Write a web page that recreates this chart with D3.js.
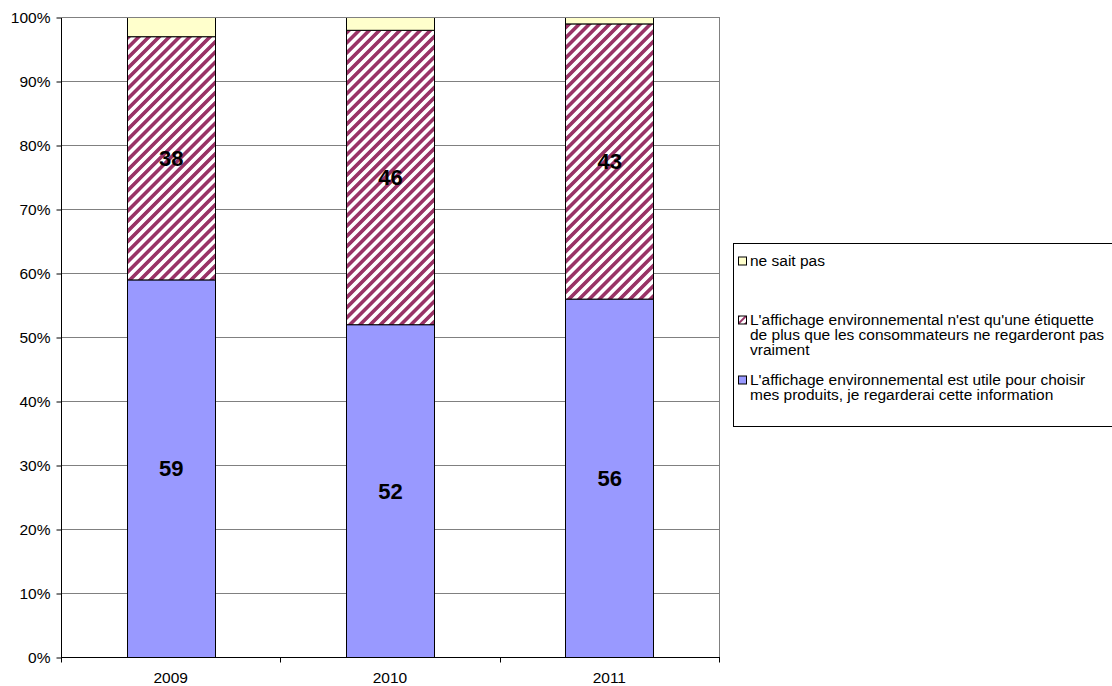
<!DOCTYPE html>
<html><head><meta charset="utf-8">
<script src="https://cdn.jsdelivr.net/npm/d3@7"></script>
<style>
body{margin:0;background:#fff;}
svg{display:block;font-family:Arial,"Liberation Sans",sans-serif;}
</style></head>
<body>
<svg id="chart" width="1112" height="686"></svg>
<script>
const years = ["2009", "2010", "2011"];
const utile = [59, 52, 56];
const etiquette = [38, 46, 43];
const nsp = [3, 2, 1];
const yTicks = [0, 10, 20, 30, 40, 50, 60, 70, 80, 90, 100];
const seriesNames = [
  "L'affichage environnemental est utile pour choisir mes produits, je regarderai cette information",
  "L'affichage environnemental n'est qu'une étiquette de plus que les consommateurs ne regarderont pas vraiment",
  "ne sait pas"
];
const legendLines = [
  ["ne sait pas"],
  ["L'affichage environnemental n'est qu'une étiquette", "de plus que les consommateurs ne regarderont pas", "vraiment"],
  ["L'affichage environnemental est utile pour choisir", "mes produits, je regarderai cette information"]
];

const svg = d3.select("#chart");
const L = 61, R = 719, T = 17, B = 657;

const defs = svg.append("defs");
const pat = defs.append("pattern").attr("id", "stripes")
  .attr("patternUnits", "userSpaceOnUse").attr("width", 7.2).attr("height", 7.2)
  .attr("patternTransform", "rotate(45)");
pat.append("rect").attr("width", 7.2).attr("height", 7.2).attr("fill", "#fff");
pat.append("rect").attr("width", 3.6).attr("height", 7.2).attr("fill", "#993366");
const patS = defs.append("pattern").attr("id", "stripesSmall")
  .attr("patternUnits", "userSpaceOnUse").attr("width", 5).attr("height", 5)
  .attr("patternTransform", "rotate(45)");
patS.append("rect").attr("width", 5).attr("height", 5).attr("fill", "#fff");
patS.append("rect").attr("width", 2).attr("height", 5).attr("fill", "#993366");

const x = d3.scaleBand().domain(years).range([L, R]).padding(0);
const y = d3.scaleLinear().domain([0, 100]).range([B, T]);
const barW = x.bandwidth() * 0.4;

// gridlines
svg.append("g").selectAll("line").data(yTicks.filter(d => d > 0)).join("line")
  .attr("x1", L).attr("x2", R).attr("y1", d => y(d) + 0.5).attr("y2", d => y(d) + 0.5)
  .attr("stroke", "#808080").attr("stroke-width", 1);
// plot border right
svg.append("line").attr("x1", R + 0.5).attr("x2", R + 0.5).attr("y1", T).attr("y2", B)
  .attr("stroke", "#808080");

const colors = ["#9999FF", "url(#stripes)", "#FFFFCC"];
const seriesVals = [utile, etiquette, nsp];
const stackData = years.map((yr, i) => {
  let base = 0;
  return seriesVals.map((s, k) => {
    const seg = {year: yr, k, y0: base, y1: base + s[i], v: s[i]};
    base += s[i];
    return seg;
  });
}).flat();

svg.append("g").selectAll("rect").data(stackData).join("rect")
  .attr("x", d => Math.round(x(d.year) + (x.bandwidth() - barW) / 2) + 0.5)
  .attr("width", Math.round(barW))
  .attr("y", d => y(d.y1) + 0.5)
  .attr("height", d => y(d.y0) - y(d.y1))
  .attr("fill", d => colors[d.k])
  .attr("stroke", "#000").attr("stroke-width", 1);

// value labels
svg.append("g").selectAll("text").data(stackData.filter(d => d.k < 2)).join("text")
  .attr("x", d => x(d.year) + x.bandwidth() / 2 + 0.5)
  .attr("y", d => y((d.y0 + d.y1) / 2))
  .attr("dy", "0.36em")
  .attr("text-anchor", "middle")
  .attr("font-weight", "bold").attr("font-size", 22)
  .attr("fill", "#000")
  .text(d => d.v);

// axes
const yAxis = d3.axisLeft(y).tickValues(yTicks).tickSize(5).tickPadding(6)
  .tickFormat(d => d + "%");
const gy = svg.append("g").attr("transform", `translate(${L + 0.5},0.5)`).call(yAxis);
gy.select(".domain").attr("d", `M0,${T}V${B}`).attr("stroke", "#000");
gy.selectAll(".tick line").attr("stroke", "#000");
gy.selectAll(".tick text").attr("font-size", 15.5).attr("font-family", "Arial,'Liberation Sans',sans-serif").attr("fill", "#000");

const gx = svg.append("g").attr("transform", `translate(0,${B + 0.5})`);
gx.append("line").attr("x1", L).attr("x2", R + 1).attr("y1", 0).attr("y2", 0).attr("stroke", "#000");
const bounds = [L, ...years.map(yr => x(yr) + x.bandwidth())];
gx.selectAll("line.t").data(bounds).join("line").attr("class", "t")
  .attr("x1", d => Math.round(d) + 0.5).attr("x2", d => Math.round(d) + 0.5)
  .attr("y1", 0).attr("y2", 5).attr("stroke", "#000");
gx.selectAll("text").data(years).join("text")
  .attr("x", d => x(d) + x.bandwidth() / 2)
  .attr("y", 19.5).attr("dy", "0.36em")
  .attr("text-anchor", "middle").attr("font-size", 15.5).attr("fill", "#000")
  .text(d => d);

// top border of plot
svg.append("line").attr("x1", L).attr("x2", R + 1).attr("y1", T + 0.5).attr("y2", T + 0.5).attr("stroke", "#808080");

// legend
const lg = svg.append("g");
lg.append("rect").attr("x", 733.5).attr("y", 243.5).attr("width", 420).attr("height", 183)
  .attr("fill", "#fff").attr("stroke", "#000");
const legFill = ["#FFFFCC", "url(#stripesSmall)", "#9999FF"];
const legTop = [261, 320, 380];
legendLines.forEach((lines, i) => {
  lg.append("rect").attr("x", 738.5).attr("y", legTop[i] - 4).attr("width", 8).attr("height", 8)
    .attr("fill", legFill[i]).attr("stroke", "#000");
  const t = lg.append("text").attr("x", 750).attr("y", legTop[i])
    .attr("font-size", 15.5).attr("fill", "#000");
  lines.forEach((ln, j) => {
    t.append("tspan").attr("x", 750).attr("dy", j === 0 ? "0.35em" : 15).text(ln);
  });
});
</script>
</body></html>
